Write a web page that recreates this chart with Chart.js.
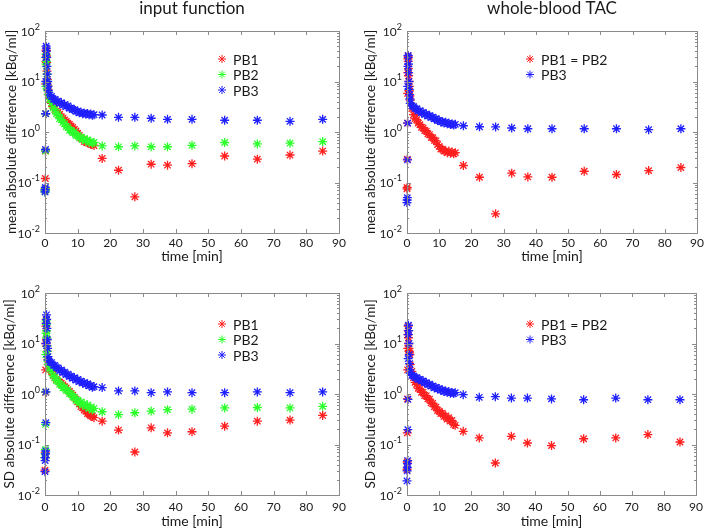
<!DOCTYPE html>
<html>
<head>
<meta charset="utf-8">
<script src="https://cdn.jsdelivr.net/npm/chart.js@4.4.0/dist/chart.umd.min.js"></script>
<style>
  body { margin: 0; background: #fff; }
  #wrap { position: relative; width: 708px; height: 530px; }
  #wrap canvas { position: absolute; }
</style>
</head>
<body>
<div id="wrap">
  <canvas id="ifMean" width="354" height="265" style="left:0;top:0"></canvas>
  <canvas id="wbMean" width="354" height="265" style="left:354px;top:0"></canvas>
  <canvas id="ifSd" width="354" height="265" style="left:0;top:265px"></canvas>
  <canvas id="wbSd" width="354" height="265" style="left:354px;top:265px"></canvas>
</div>
<script>
// sampling times [min]: fast samples around the peak, dense 0-15 min, then late samples
const sampleTimes = [0, 0.05, 0.1, 0.15, 0.2, 0.25, 0.3, 0.35, 0.4, 0.45, 0.5, 0.6, 0.7, 0.8, 0.9,
  1, 1.5, 2, 2.5, 3, 3.5, 4, 4.5, 5, 5.5, 6, 6.5, 7, 7.5, 8, 8.5, 9, 9.5, 10, 10.5, 11, 11.5, 12, 12.5, 13, 13.5, 14, 14.5, 15,
  17.5, 22.5, 27.5, 32.5, 37.5, 45, 55, 65, 75, 85];

// input function - mean absolute difference [kBq/ml]
const ifMeanPB1 = [0.07, 0.075, 0.12, 0.42, 2.3, 9, 25, 42, 40, 32, 24, 16, 11, 8.5, 7,
  5.5, 4.5, 3.7, 3.2, 2.8, 2.6, 2.44, 2.25, 2.0, 1.88, 1.73, 1.62, 1.48, 1.42, 1.31, 1.24, 1.13, 1.05, 0.94, 0.86, 0.75, 0.72, 0.65, 0.64, 0.62, 0.6, 0.57, 0.57, 0.54,
  0.30, 0.175, 0.052, 0.23, 0.22, 0.236, 0.335, 0.29, 0.35, 0.42];
const ifMeanPB2 = [0.065, 0.07, 0.075, 0.42, 2.3, 8, 22, 35, 30, 25, 20, 14, 10, 8, 6.5,
  5.5, 4.4, 3.8, 3.0, 2.8, 2.3, 2.2, 1.85, 1.76, 1.55, 1.46, 1.28, 1.24, 1.08, 1.08, 0.96, 0.99, 0.86, 0.85, 0.77, 0.79, 0.71, 0.74, 0.67, 0.7, 0.62, 0.65, 0.6, 0.62,
  0.53, 0.51, 0.53, 0.51, 0.51, 0.545, 0.62, 0.58, 0.6, 0.645];
const ifMeanPB3 = [0.065, 0.072, 0.08, 0.45, 2.3, 10, 30, 50, 46, 40, 30, 20, 14, 10, 8,
  6.7, 5.4, 5.1, 4.5, 4.4, 4.0, 4.1, 3.7, 3.8, 3.4, 3.5, 3.2, 3.3, 2.95, 3.0, 2.8, 2.75, 2.55, 2.6, 2.4, 2.45, 2.3, 2.38, 2.25, 2.32, 2.2, 2.28, 2.15, 2.2,
  2.17, 1.95, 1.95, 1.87, 1.78, 1.78, 1.71, 1.71, 1.63, 1.78];

// whole-blood TAC - mean absolute difference [kBq/ml]
const wbMeanPB12 = [0.075, 0.08, 0.29, 1.5, 5.8, 15, 28, 32, 25, 18, 13, 10, 8, 6.5, 5.2,
  4.3, 2.9, 2.2, 1.85, 1.76, 1.5, 1.4, 1.24, 1.2, 1.07, 1.04, 0.92, 0.89, 0.78, 0.77, 0.68, 0.67, 0.56, 0.52, 0.46, 0.46, 0.42, 0.42, 0.39, 0.42, 0.38, 0.4, 0.37, 0.39,
  0.217, 0.127, 0.024, 0.153, 0.129, 0.127, 0.167, 0.144, 0.172, 0.198];
const wbMeanPB3 = [0.04, 0.045, 0.05, 0.28, 1.5, 8, 20, 33, 30, 22, 15, 10, 7, 5.5, 4.5,
  3.7, 3.3, 3.2, 2.9, 2.9, 2.6, 2.65, 2.4, 2.45, 2.2, 2.28, 2.08, 2.1, 1.95, 1.98, 1.82, 1.83, 1.68, 1.7, 1.58, 1.6, 1.5, 1.56, 1.46, 1.49, 1.4, 1.44, 1.37, 1.42,
  1.33, 1.27, 1.26, 1.2, 1.16, 1.16, 1.16, 1.16, 1.11, 1.16];

// input function - SD of absolute difference [kBq/ml]
const ifSdPB1 = [0.031, 0.055, 0.07, 1.08, 3, 10, 22, 30, 25, 18, 12, 9, 7, 5.5, 4.8,
  3.8, 3.2, 2.8, 2.4, 2.1, 1.95, 1.8, 1.72, 1.63, 1.52, 1.4, 1.32, 1.2, 1.12, 1.03, 0.95, 0.85, 0.79, 0.7, 0.64, 0.56, 0.54, 0.48, 0.46, 0.41, 0.4, 0.37, 0.36, 0.34,
  0.29, 0.193, 0.071, 0.214, 0.17, 0.179, 0.231, 0.29, 0.304, 0.376];
const ifSdPB2 = [0.055, 0.065, 0.08, 0.25, 1.1, 6, 16, 28, 24, 18, 13, 9, 7, 5.5, 4.5,
  3.8, 3.1, 2.9, 2.3, 2.15, 1.85, 1.8, 1.55, 1.5, 1.33, 1.33, 1.18, 1.18, 1.02, 1.0, 0.87, 0.87, 0.75, 0.75, 0.66, 0.7, 0.6, 0.64, 0.56, 0.61, 0.52, 0.55, 0.48, 0.52,
  0.445, 0.39, 0.425, 0.46, 0.49, 0.5, 0.53, 0.54, 0.53, 0.57];
const ifSdPB3 = [0.029, 0.048, 0.055, 0.065, 0.075, 0.27, 1.1, 10, 25, 37, 30, 20, 12, 8, 5.5,
  4.7, 4.3, 4.2, 3.7, 3.7, 3.3, 3.3, 2.9, 3.0, 2.65, 2.72, 2.42, 2.47, 2.22, 2.26, 2.03, 2.1, 1.88, 1.95, 1.76, 1.8, 1.64, 1.68, 1.55, 1.6, 1.45, 1.48, 1.36, 1.4,
  1.34, 1.15, 1.15, 1.06, 1.1, 1.06, 1.06, 1.1, 1.06, 1.1];

// whole-blood TAC - SD of absolute difference [kBq/ml]
const wbSdPB12 = [0.032, 0.045, 0.17, 0.8, 3, 8, 15, 22, 18, 13, 10, 8, 7, 6.5, 6,
  3.8, 2.8, 2.1, 1.7, 1.56, 1.3, 1.25, 1.08, 1.08, 0.93, 0.92, 0.8, 0.79, 0.67, 0.65, 0.56, 0.55, 0.47, 0.46, 0.41, 0.42, 0.36, 0.37, 0.32, 0.34, 0.29, 0.3, 0.25, 0.24,
  0.182, 0.135, 0.043, 0.145, 0.107, 0.095, 0.13, 0.135, 0.157, 0.112];
const wbSdPB3 = [0.019, 0.03, 0.035, 0.042, 0.048, 0.197, 0.78, 5, 15, 23, 18, 10, 6, 4, 3,
  2.6, 2.35, 2.28, 2.1, 2.1, 1.95, 1.95, 1.8, 1.82, 1.66, 1.68, 1.54, 1.56, 1.43, 1.45, 1.33, 1.35, 1.25, 1.28, 1.19, 1.2, 1.12, 1.15, 1.08, 1.12, 1.04, 1.07, 1.02, 1.06,
  0.97, 0.86, 0.885, 0.83, 0.83, 0.8, 0.77, 0.83, 0.77, 0.77];

const xTicks = [0, 10, 20, 30, 40, 50, 60, 70, 80, 90];
const yDecades = [0.01, 0.1, 1, 10, 100];

const RED = '#ff1f1f', GREEN = '#2cff2c', BLUE = '#1f1fff';
const FONT = 'Lato, "Open Sans", sans-serif';
const TEXT = '#1a1a1a';

function toPoints(values) {
    return values.map((v, i) => ({ x: sampleTimes[i], y: v }));
}

// frame with inward ticks, y labels as 10^n, title and legend
const panelDecor = {
    id: 'panelDecor',
    afterDraw(chart, args, opts) {
        const { ctx, chartArea: a, scales: { x, y } } = chart;
        ctx.save();
        ctx.strokeStyle = '#8a8a8a';
        ctx.lineWidth = 1;
        ctx.strokeRect(Math.round(a.left) + 0.5, Math.round(a.top) + 0.5, Math.round(a.width), Math.round(a.height));

        ctx.beginPath();
        xTicks.forEach(t => {
            if (t === 0 || t === 90) return;
            const px = Math.round(x.getPixelForValue(t)) + 0.5;
            ctx.moveTo(px, a.bottom); ctx.lineTo(px, a.bottom - 4);
            ctx.moveTo(px, a.top); ctx.lineTo(px, a.top + 4);
        });
        for (let d = 0; d < yDecades.length - 1; d++) {
            for (let m = 1; m < 10; m++) {
                if (d === 0 && m === 1) continue;
                const py = Math.round(y.getPixelForValue(m * yDecades[d])) + 0.5;
                const len = m === 1 ? 4 : 2;
                ctx.moveTo(a.left, py); ctx.lineTo(a.left + len, py);
                ctx.moveTo(a.right, py); ctx.lineTo(a.right - len, py);
            }
        }
        ctx.stroke();

        // y tick labels: 10 with superscript exponent
        ctx.fillStyle = TEXT;
        ctx.textBaseline = 'middle';
        yDecades.forEach(v => {
            const py = y.getPixelForValue(v);
            const exp = String(Math.round(Math.log10(v)));
            ctx.font = '9px ' + FONT;
            const ew = ctx.measureText(exp).width;
            const right = a.left - 5;
            ctx.textAlign = 'left';
            ctx.fillText(exp, right - ew, py - 4);
            ctx.font = '12px ' + FONT;
            ctx.textAlign = 'right';
            ctx.fillText('10', right - ew, py + 1);
        });

        if (opts.title) {
            ctx.font = '17px ' + FONT;
            ctx.textAlign = 'center';
            ctx.fillText(opts.title, (a.left + a.right) / 2, 9);
        }

        ctx.font = '14px ' + FONT;
        ctx.textAlign = 'left';
        opts.legend.forEach((item, i) => {
            const ly = opts.legendY + i * 15.5;
            ctx.strokeStyle = item.color;
            ctx.fillStyle = item.color;
            Chart.helpers.drawPoint(ctx, { pointStyle: 'star', radius: 4, borderWidth: 1.2, rotation: 0 }, a.left + opts.legendX, ly);
            ctx.fillStyle = TEXT;
            ctx.fillText(item.label, a.left + opts.legendX + 11, ly + 1);
        });
        ctx.restore();
    }
};

function makePanel(id, cfg) {
    const datasets = cfg.series.map((s, i) => ({
        label: s.label,
        data: toPoints(s.values),
        pointStyle: 'star',
        pointRadius: 4.5,
        pointHoverRadius: 4.5,
        borderWidth: 1.3,
        borderColor: s.color,
        backgroundColor: s.color,
        showLine: false,
        clip: false,
        order: cfg.series.length - i
    }));
    new Chart(document.getElementById(id), {
        type: 'scatter',
        data: { datasets },
        options: {
            responsive: false,
            animation: false,
            events: [],
            layout: { padding: { left: 0, right: cfg.padRight, top: cfg.padTop, bottom: 0 } },
            plugins: {
                legend: { display: false },
                tooltip: { enabled: false },
                panelDecor: { title: cfg.title, legend: cfg.legend, legendX: cfg.legendX, legendY: cfg.legendY }
            },
            scales: {
                x: {
                    type: 'linear',
                    min: 0,
                    max: 90,
                    afterBuildTicks: s => { s.ticks = xTicks.map(v => ({ value: v })); },
                    ticks: { color: TEXT, font: { family: FONT, size: 12 }, padding: cfg.xTickPad, maxRotation: 0 },
                    grid: { display: false, drawTicks: false },
                    border: { display: false },
                    title: { display: true, text: 'time [min]', color: TEXT, font: { family: FONT, size: 14 }, padding: { top: 0, bottom: 0 } },
                    afterFit: s => { s.height = cfg.xHeight; }
                },
                y: {
                    type: 'logarithmic',
                    min: 0.01,
                    max: 100,
                    afterBuildTicks: s => { s.ticks = yDecades.map(v => ({ value: v })); },
                    ticks: { display: false },
                    grid: { display: false, drawTicks: false },
                    border: { display: false },
                    title: { display: true, text: cfg.yTitle, color: TEXT, font: { family: FONT, size: 13.5 }, padding: { top: cfg.yTitlePad, bottom: 0 } },
                    afterFit: s => { s.width = cfg.yWidth; }
                }
            }
        },
        plugins: [panelDecor]
    });
}

makePanel('ifMean', {
    title: 'input function',
    yTitle: 'mean absolute difference [kBq/ml]',
    series: [
        { label: 'PB1', color: RED, values: ifMeanPB1 },
        { label: 'PB2', color: GREEN, values: ifMeanPB2 },
        { label: 'PB3', color: BLUE, values: ifMeanPB3 }
    ],
    legend: [{ label: 'PB1', color: RED }, { label: 'PB2', color: GREEN }, { label: 'PB3', color: BLUE }],
    legendX: 177, legendY: 59,
    padTop: 31, padRight: 15, yWidth: 45, xHeight: 32, xTickPad: 3, yTitlePad: 4
});

makePanel('wbMean', {
    title: 'whole-blood TAC',
    yTitle: 'mean absolute difference [kBq/ml]',
    series: [
        { label: 'PB1 = PB2', color: RED, values: wbMeanPB12 },
        { label: 'PB3', color: BLUE, values: wbMeanPB3 }
    ],
    legend: [{ label: 'PB1 = PB2', color: RED }, { label: 'PB3', color: BLUE }],
    legendX: 123, legendY: 59,
    padTop: 31, padRight: 11, yWidth: 53, xHeight: 32, xTickPad: 3, yTitlePad: 9
});

makePanel('ifSd', {
    title: '',
    yTitle: 'SD absolute difference [kBq/ml]',
    series: [
        { label: 'PB1', color: RED, values: ifSdPB1 },
        { label: 'PB2', color: GREEN, values: ifSdPB2 },
        { label: 'PB3', color: BLUE, values: ifSdPB3 }
    ],
    legend: [{ label: 'PB1', color: RED }, { label: 'PB2', color: GREEN }, { label: 'PB3', color: BLUE }],
    legendX: 177, legendY: 59,
    padTop: 28, padRight: 15, yWidth: 45, xHeight: 35, xTickPad: 5, yTitlePad: 2
});

makePanel('wbSd', {
    title: '',
    yTitle: 'SD absolute difference [kBq/ml]',
    series: [
        { label: 'PB1 = PB2', color: RED, values: wbSdPB12 },
        { label: 'PB3', color: BLUE, values: wbSdPB3 }
    ],
    legend: [{ label: 'PB1 = PB2', color: RED }, { label: 'PB3', color: BLUE }],
    legendX: 123, legendY: 59,
    padTop: 28, padRight: 11, yWidth: 53, xHeight: 35, xTickPad: 5, yTitlePad: 9
});
</script>
</body>
</html>
